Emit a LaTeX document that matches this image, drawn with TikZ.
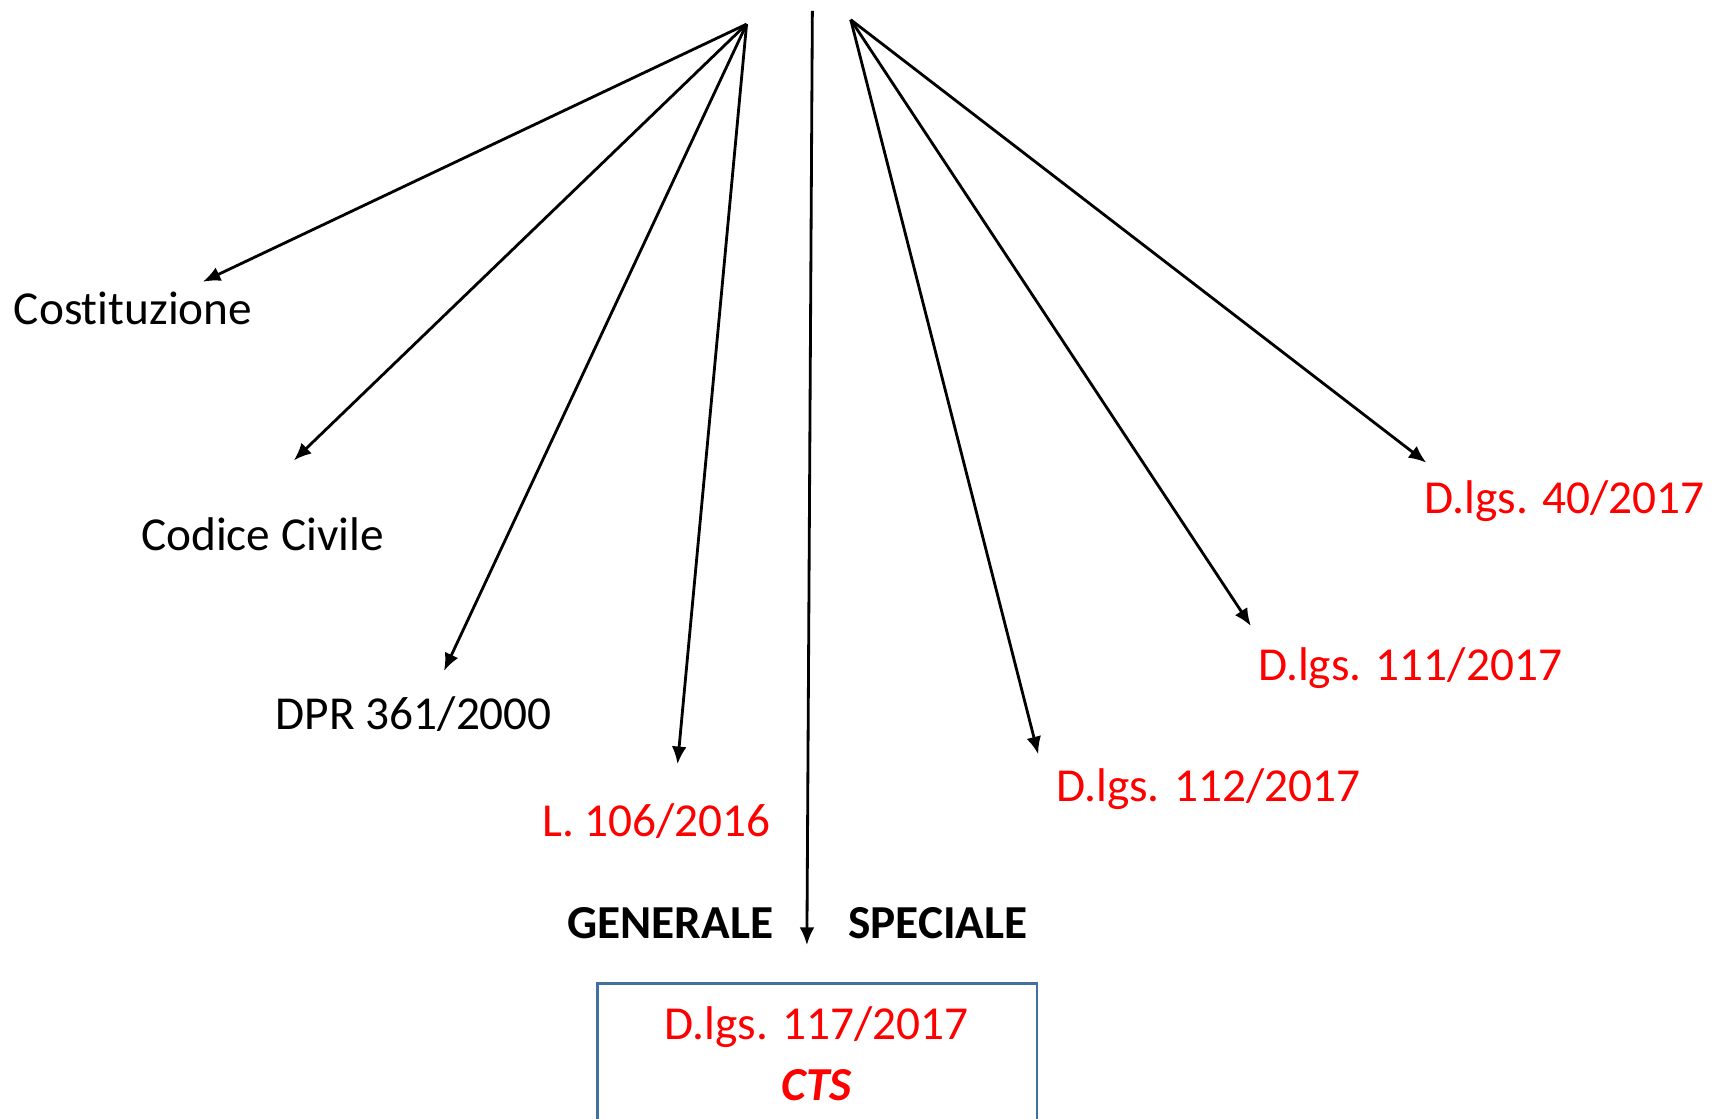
\documentclass[tikz,border=0pt]{standalone}
\usepackage{fontspec}
\setmainfont[Ligatures=NoCommon, RawFeature={-liga;-calt}]{Carlito}
\usetikzlibrary{arrows.meta}
\definecolor{lawred}{RGB}{255,0,0}
\definecolor{boxblue}{RGB}{65,113,160}

\begin{document}
\begin{tikzpicture}[x=0.010963cm, y=-0.010963cm,
  every node/.style = {inner sep=0pt, font=\fontsize{13.45}{16}\selectfont},
  law/.style = {anchor=west},
  newlaw/.style = {anchor=west, text=lawred},
  part/.style = {anchor=west, font=\fontsize{13.45}{16}\selectfont\bfseries},
  link/.style = {line width=0.8pt, -{Latex[length=5pt, width=4.2pt]}}]
  \useasboundingbox (0,0) rectangle (1568,1020);
  \clip (0,0) rectangle (1568,1020);
  % fan origins
  \coordinate (left) at (681,22);
  \coordinate (right) at (776,18);
  \coordinate (top) at (741,10);
  % laws
  \node[law] (cost) at (12,281) {Costituzione};
  \node[law] (cc) at (128,487) {Codice Civile};
  \node[law] (dpr) at (251,651) {DPR 361/2000};
  \node[newlaw] (l106) at (494,749) {L. 106/2016};
  \node[newlaw] (d112) at (963,720) {D.lgs. 112/2017};
  \node[newlaw] (d111) at (1147,609) {D.lgs. 111/2017};
  \node[newlaw] (d40) at (1299,457) {D.lgs. 40/2017};
  \node[part] (gen) at (517,842) {GENERALE};
  \node[part] (spec) at (773,842) {SPECIALE};
  % code box
  \draw[boxblue, line width=0.7pt] (545,897) rectangle (946,1060);
  \node[text=lawred] (dlgs) at (745,937) {D.lgs. 117/2017};
  \node[text=lawred, font=\fontsize{13.45}{16}\selectfont\bfseries\itshape]
    (cts) at (745,990) {CTS};
  % arrow tips
  \coordinate (tcost) at (185,257);
  \coordinate (tcc) at (268,420);
  \coordinate (tdpr) at (405,612);
  \coordinate (tl106) at (618,697);
  \coordinate (td112) at (947,688);
  \coordinate (td111) at (1141,571);
  \coordinate (td40) at (1301,422);
  \coordinate (tbox) at (736,862);
  \foreach \t in {tcost,tcc,tdpr,tl106}
    \draw[link] (left) -- (\t);
  \foreach \t in {td112,td111,td40}
    \draw[link] (right) -- (\t);
  \draw[link] (top) -- (tbox);
\end{tikzpicture}
\end{document}
